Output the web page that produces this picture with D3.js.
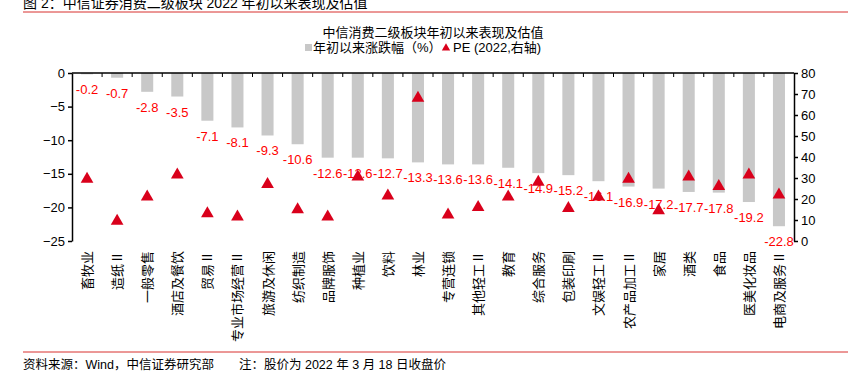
<!DOCTYPE html>
<html>
<head>
<meta charset="utf-8">
<script src="https://cdn.jsdelivr.net/npm/d3@7"></script>
<style>
  body { margin: 0; background: #fff; }
  svg { display: block; font-family: "Liberation Sans", Arial, "Noto Sans CJK SC", sans-serif; }
</style>
</head>
<body>
<svg id="chart" width="848" height="380"></svg>
<script>
// sectors, sorted by YTD change
var categories = ["畜牧业","造纸Ⅱ","一般零售","酒店及餐饮","贸易Ⅱ","专业市场经营Ⅱ","旅游及休闲","纺织制造",
  "品牌服饰","种植业","饮料","林业","专营连锁","其他轻工Ⅱ","教育","综合服务","包装印刷","文娱轻工Ⅱ",
  "农产品加工Ⅱ","家居","酒类","食品","医美化妆品","电商及服务Ⅱ"];
var ytdChange = [-0.2,-0.7,-2.8,-3.5,-7.1,-8.1,-9.3,-10.6,-12.6,-12.6,-12.7,-13.3,-13.6,-13.6,-14.1,
  -14.9,-15.2,-16.1,-16.9,-17.2,-17.7,-17.8,-19.2,-22.8];
var pe2022 = [29.5,9.5,21,31.5,13,11.5,27,15,11.5,30.5,21.5,68,12.5,16,21,28,15.5,21,29.5,14.5,30.5,26,31.5,22];
var leftTicks = [0,-5,-10,-15,-20,-25];
var rightTicks = [0,10,20,30,40,50,60,70,80];

var svg = d3.select("#chart");
var plotLeft = 72, plotRight = 794, plotTop = 73, plotBottom = 241;
var red = "#ff0000", tri = "#d9001b";

var x = d3.scaleBand().domain(categories).range([plotLeft, plotRight]).paddingInner(0.6).paddingOuter(0.3);
var yL = d3.scaleLinear().domain([-25, 0]).range([plotBottom, plotTop]);
var yR = d3.scaleLinear().domain([0, 80]).range([plotBottom, plotTop]);

// header
svg.append("text").attr("x", 23).attr("y", 8).style("font-size", "14px").attr("fill", "#000")
  .text("图 2：中信证券消费二级板块 2022 年初以来表现及估值");
svg.append("line").attr("x1", 23).attr("x2", 848).attr("y1", 12).attr("y2", 12)
  .attr("stroke", "#d8302f").attr("stroke-width", 1);

svg.append("text").attr("x", 433).attr("y", 37).attr("text-anchor", "middle")
  .style("font-size", "13px").text("中信消费二级板块年初以来表现及估值");

// legend
var lg = svg.append("g");
lg.append("rect").attr("x", 305).attr("y", 44).attr("width", 7).attr("height", 7).attr("fill", "#c8c8c8");
lg.append("text").attr("x", 313).attr("y", 52).style("font-size", "13px").text("年初以来涨跌幅（%）");
lg.append("path").attr("d", d3.symbol(d3.symbolTriangle).size(30)())
  .attr("transform", "translate(446,48)").attr("fill", tri);
lg.append("text").attr("x", 453).attr("y", 52).style("font-size", "13px").text("PE (2022,右轴)");

// bars
svg.append("g").selectAll("rect").data(ytdChange).join("rect")
  .attr("x", function(d, i) { return x(categories[i]); })
  .attr("y", yL(0))
  .attr("width", x.bandwidth())
  .attr("height", function(d) { return yL(d) - yL(0); })
  .attr("fill", "#c8c8c8");

// value labels
svg.append("g").selectAll("text").data(ytdChange).join("text")
  .attr("x", function(d, i) { return x(categories[i]) + x.bandwidth() / 2; })
  .attr("y", function(d) { return yL(d) + 20; })
  .attr("text-anchor", "middle")
  .style("font-size", "13px")
  .attr("fill", red)
  .text(function(d) { return d.toFixed(1); });

// PE markers
svg.append("g").selectAll("path").data(pe2022).join("path")
  .attr("d", d3.symbol(d3.symbolTriangle).size(70)())
  .attr("transform", function(d, i) {
    return "translate(" + (x(categories[i]) + x.bandwidth() / 2) + "," + yR(d) + ")";
  })
  .attr("fill", tri);

// left axis
var ax = svg.append("g").attr("transform", "translate(" + plotLeft + ",0)")
  .call(d3.axisLeft(yL).tickValues(leftTicks).tickSize(4).tickSizeOuter(0));
ax.selectAll("text").style("font-size", "13px").attr("fill", "#000");
ax.selectAll("line, path").attr("stroke", "#000").attr("stroke-width", 1.5);

// right axis
var ar = svg.append("g").attr("transform", "translate(" + plotRight + ",0)")
  .call(d3.axisRight(yR).tickValues(rightTicks).tickSize(4).tickSizeOuter(0));
ar.selectAll("text").style("font-size", "13px").attr("fill", "#000");
ar.selectAll("line, path").attr("stroke", "#000").attr("stroke-width", 1.5);

// category axis on zero line
var step = x.step();
svg.append("line").attr("x1", plotLeft).attr("x2", plotRight).attr("y1", plotTop).attr("y2", plotTop)
  .attr("stroke", "#000").attr("stroke-width", 1.5);
svg.append("g").selectAll("line").data(categories.slice(1)).join("line")
  .attr("x1", function(d) { return x(d) - step * x.paddingInner() / 2; })
  .attr("x2", function(d) { return x(d) - step * x.paddingInner() / 2; })
  .attr("y1", plotTop).attr("y2", plotTop + 4)
  .attr("stroke", "#000").attr("stroke-width", 1);

// category labels
svg.append("g").selectAll("text").data(categories).join("text")
  .attr("transform", function(d) {
    return "translate(" + (x(d) + x.bandwidth() / 2 + 5) + ",251) rotate(-90)";
  })
  .attr("text-anchor", "end")
  .style("font-family", "'Noto Sans CJK SC', sans-serif")
  .style("font-size", "13px")
  .text(function(d) { return d; });

// footer
svg.append("line").attr("x1", 23).attr("x2", 848).attr("y1", 352).attr("y2", 352)
  .attr("stroke", "#d8302f").attr("stroke-width", 1);
svg.append("text").attr("x", 23).attr("y", 369).style("font-size", "12.5px")
  .text("资料来源：Wind，中信证券研究部　　注：股价为 2022 年 3 月 18 日收盘价");
</script>
</body>
</html>
